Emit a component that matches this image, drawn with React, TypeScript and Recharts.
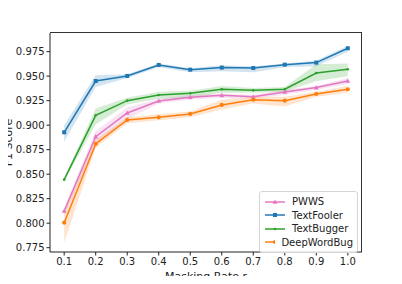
import React from 'react';
import { ComposedChart, Line, Area, XAxis, YAxis, Legend, Label } from 'recharts';

const rates = [0.1, 0.2, 0.3, 0.4, 0.5, 0.6, 0.7, 0.8, 0.9, 1.0];
const xTicks = [0.1, 0.2, 0.3, 0.4, 0.5, 0.6, 0.7, 0.8, 0.9, 1.0];
const yTicks = [0.775, 0.8, 0.825, 0.85, 0.875, 0.9, 0.925, 0.95, 0.975];

const pwws = [0.8124, 0.8883, 0.9124, 0.9247, 0.9284, 0.9304, 0.929, 0.9338, 0.9383, 0.945];
const pwwsLo = [0.808, 0.88, 0.906, 0.922, 0.926, 0.928, 0.927, 0.931, 0.936, 0.942];
const pwwsHi = [0.816, 0.894, 0.918, 0.927, 0.931, 0.932, 0.931, 0.936, 0.94, 0.948];

const textFooler = [0.8927, 0.945, 0.9502, 0.9614, 0.9566, 0.9587, 0.9583, 0.9617, 0.9638, 0.9784];
const textFoolerLo = [0.883, 0.939, 0.948, 0.959, 0.954, 0.955, 0.954, 0.959, 0.96, 0.975];
const textFoolerHi = [0.9, 0.951, 0.952, 0.963, 0.958, 0.961, 0.96, 0.963, 0.966, 0.981];

const textBugger = [0.8444, 0.91, 0.925, 0.9308, 0.9325, 0.9366, 0.9355, 0.9366, 0.9532, 0.957];
const textBuggerLo = [0.843, 0.901, 0.921, 0.927, 0.928, 0.933, 0.933, 0.934, 0.945, 0.95];
const textBuggerHi = [0.846, 0.917, 0.928, 0.934, 0.935, 0.94, 0.938, 0.939, 0.962, 0.963];

const deepWordBug = [0.8005, 0.8808, 0.9053, 0.908, 0.9114, 0.9206, 0.926, 0.925, 0.9318, 0.9366];
const deepWordBugLo = [0.78, 0.877, 0.902, 0.905, 0.908, 0.916, 0.922, 0.919, 0.929, 0.933];
const deepWordBugHi = [0.812, 0.885, 0.908, 0.911, 0.914, 0.926, 0.929, 0.929, 0.934, 0.94];

const data = rates.map((r, i) => ({
  r,
  pwws: pwws[i],
  pwwsBand: [pwwsLo[i], pwwsHi[i]],
  textFooler: textFooler[i],
  textFoolerBand: [textFoolerLo[i], textFoolerHi[i]],
  textBugger: textBugger[i],
  textBuggerBand: [textBuggerLo[i], textBuggerHi[i]],
  deepWordBug: deepWordBug[i],
  deepWordBugBand: [deepWordBugLo[i], deepWordBugHi[i]],
}));

const series = [
  { key: 'pwws', name: 'PWWS', color: '#e377c2', marker: 'triangle' },
  { key: 'textFooler', name: 'TextFooler', color: '#1f77b4', marker: 'square' },
  { key: 'textBugger', name: 'TextBugger', color: '#2ca02c', marker: 'point' },
  { key: 'deepWordBug', name: 'DeepWordBug', color: '#ff7f0e', marker: 'circle' },
];

const FONT = 'DejaVu Sans, sans-serif';
const X_DOMAIN = [0.055, 1.045];
const Y_DOMAIN = [0.7706, 0.994];

// plot box edges
const W = 402;
const H = 284;
const PLOT = { left: 50, top: 33, right: 362, bottom: 252 };

function marker(type: string, cx: number, cy: number, color: string, k?: any) {
  if (type === 'square') return <rect key={k} x={cx - 2} y={cy - 2} width={4} height={4} fill={color} />;
  if (type === 'triangle')
    return <polygon key={k} points={`${cx},${cy - 2.5} ${cx - 2.4},${cy + 1.8} ${cx + 2.4},${cy + 1.8}`} fill={color} />;
  if (type === 'point') return <circle key={k} cx={cx} cy={cy} r={1.3} fill={color} />;
  return <circle key={k} cx={cx} cy={cy} r={2.1} fill={color} />;
}

function makeDot(type: string, color: string) {
  return (p: any) => marker(type, p.cx, p.cy, color, p.index);
}

function LegendBox() {
  return (
    <div style={{ border: '1px solid #d5d5d5', borderRadius: 3, background: 'rgba(255,255,255,0.8)', padding: '3px 4px', fontFamily: FONT, fontSize: 10, color: '#222' }}>
      {series.map((s) => (
        <div key={s.key} style={{ display: 'flex', alignItems: 'center', height: 13.5 }}>
          <svg width={22} height={8} style={{ marginRight: 6 }}>
            <line x1={1} y1={4} x2={21} y2={4} stroke={s.color} strokeWidth={1.5} />
            {marker(s.marker, 11, 4, s.color)}
          </svg>
          <span>{s.name}</span>
        </div>
      ))}
    </div>
  );
}

export default function App() {
  return (
    <div style={{ position: 'relative', margin: -8, width: W, height: H }}>
      {/* box frame drawn as a plain div behind the chart */}
      <div
        style={{
          position: 'absolute',
          left: PLOT.left,
          top: PLOT.top - 1,
          width: PLOT.right - PLOT.left,
          height: PLOT.bottom - PLOT.top + 1,
          borderTop: '1px solid #333',
          borderRight: '1px solid #333',
          boxSizing: 'border-box',
        }}
      />
      <div style={{ position: 'absolute', left: 0, top: 0 }}>
        <ComposedChart width={W} height={H} data={data} margin={{ top: PLOT.top, right: W - PLOT.right, bottom: 0, left: 0 }}>
          <XAxis
            dataKey="r"
            type="number"
            domain={X_DOMAIN}
            ticks={xTicks}
            tickFormatter={(v: number) => v.toFixed(1)}
            height={H - PLOT.bottom}
            tickSize={3.5}
            tickMargin={2}
            stroke="#222"
            tick={{ fill: '#222', fontSize: 10, fontFamily: FONT }}
            allowDataOverflow
          >
            <Label value="Masking Rate r" position="insideBottom" offset={4} style={{ fill: '#222', fontSize: 11, fontFamily: FONT }} />
          </XAxis>
          <YAxis
            type="number"
            domain={Y_DOMAIN}
            ticks={yTicks}
            tickFormatter={(v: number) => v.toFixed(3)}
            width={PLOT.left}
            tickSize={3.5}
            tickMargin={2}
            stroke="#222"
            tick={{ fill: '#222', fontSize: 10, fontFamily: FONT }}
            allowDataOverflow
          >
            <Label value="F1 Score" angle={-90} position="insideLeft" offset={8} style={{ fill: '#222', fontSize: 11, fontFamily: FONT, textAnchor: 'middle' }} />
          </YAxis>
          {series.map((s) => (
            <Area
              key={s.key + 'Band'}
              type="linear"
              dataKey={s.key + 'Band'}
              stroke="none"
              fill={s.color}
              fillOpacity={0.2}
              isAnimationActive={false}
              legendType="none"
              activeDot={false}
            />
          ))}
          {series.map((s) => (
            <Line
              key={s.key}
              type="linear"
              dataKey={s.key}
              name={s.name}
              stroke={s.color}
              strokeWidth={1.5}
              dot={makeDot(s.marker, s.color)}
              activeDot={false}
              isAnimationActive={false}
            />
          ))}
          <Legend
            layout="vertical"
            align="center"
            verticalAlign="middle"
            content={() => <LegendBox />}
            wrapperStyle={{ position: 'absolute', left: 259, top: 191, width: 99, height: 58 }}
          />
        </ComposedChart>
      </div>
    </div>
  );
}
